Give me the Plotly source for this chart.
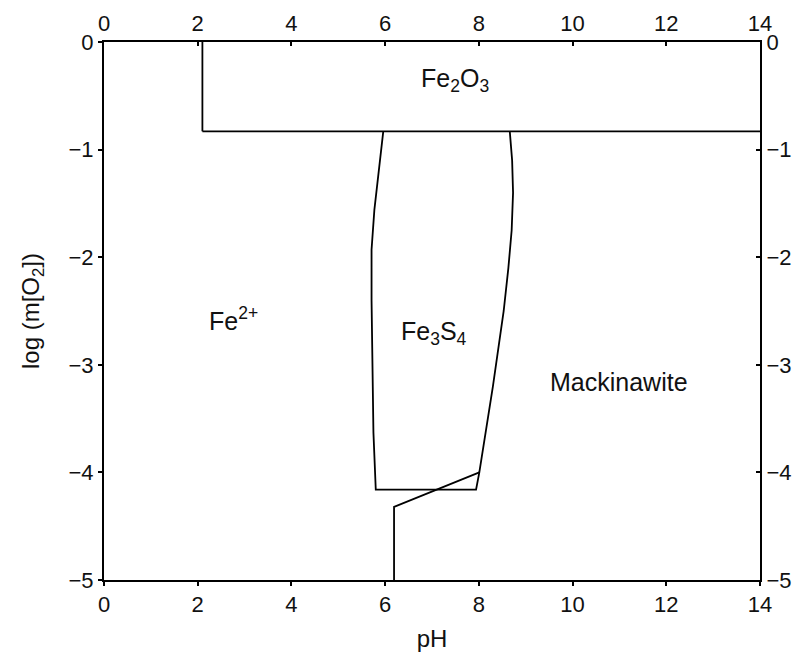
import plotly.graph_objects as go

# Phase boundaries, pH vs log m[O2]
fe2o3_vert_ph = [2.1, 2.1]
fe2o3_vert_logo2 = [0.0, -0.83]
fe2o3_base_ph = [2.1, 14.0]
fe2o3_base_logo2 = [-0.83, -0.83]

fe3s4_ph = [5.96, 5.85, 5.77, 5.71, 5.71, 5.75, 5.80, 7.94, 8.01, 8.30, 8.53, 8.63, 8.70, 8.73, 8.71, 8.66]
fe3s4_logo2 = [-0.83, -1.25, -1.56, -1.93, -2.40, -3.63, -4.16, -4.16, -4.00, -3.20, -2.50, -2.10, -1.75, -1.40, -1.10, -0.83]

mack_ph = [8.01, 6.19, 6.19]
mack_logo2 = [-4.00, -4.32, -5.0]

# Field labels
label_text = ["Fe<sub>2</sub>O<sub>3</sub>", "Fe<sup>2+</sup>", "Fe<sub>3</sub>S<sub>4</sub>", "Mackinawite"]
label_ph = [7.5, 2.77, 7.04, 10.99]
label_logo2 = [-0.35, -2.57, -2.70, -3.16]

x_ticks = [0, 2, 4, 6, 8, 10, 12, 14]
y_ticks = [0, -1, -2, -3, -4, -5]

line_style = dict(color="black", width=1.8)
fig = go.Figure()
for xs, ys in [(fe2o3_vert_ph, fe2o3_vert_logo2), (fe2o3_base_ph, fe2o3_base_logo2),
               (fe3s4_ph, fe3s4_logo2), (mack_ph, mack_logo2)]:
    fig.add_trace(go.Scatter(x=xs, y=ys, mode="lines", line=line_style,
                             showlegend=False, hoverinfo="skip"))
# carrier trace for the mirrored top/right axes
fig.add_trace(go.Scatter(x=[0, 14], y=[0, -5], xaxis="x2", yaxis="y2", mode="markers",
                         marker=dict(opacity=0), showlegend=False, hoverinfo="skip"))

family = "Liberation Sans, Arial, sans-serif"
for t, xv, yv in zip(label_text, label_ph, label_logo2):
    fig.add_annotation(x=xv, y=yv, text=t, showarrow=False,
                       font=dict(family=family, size=25, color="#111"))

font = dict(family=family, size=22, color="#111")
axis_common = dict(showgrid=False, zeroline=False, showline=True, linecolor="black",
                   linewidth=2, ticklen=4, tickwidth=1.5, tickcolor="black",
                   tickfont=font, automargin=False)
fig.update_layout(
    width=794, height=658,
    margin=dict(l=104, r=34, t=42, b=78, autoexpand=False),
    paper_bgcolor="white", plot_bgcolor="white",
    font=font,
    xaxis=dict(range=[0, 14], tickvals=x_ticks, ticks="outside",
               title=dict(text="pH", font=dict(family=family, size=24, color="#111"), standoff=14),
               **axis_common),
    xaxis2=dict(range=[0, 14], tickvals=x_ticks, ticks="inside", side="top",
                overlaying="x", anchor="y", **axis_common),
    yaxis=dict(range=[-5, 0], tickvals=y_ticks, ticks="outside",
               title=dict(text="log (m[O<sub>2</sub>])", font=dict(family=family, size=24, color="#111"), standoff=22),
               **axis_common),
    yaxis2=dict(range=[-5, 0], tickvals=y_ticks, ticks="inside", side="right",
                overlaying="y", anchor="x", **axis_common),
)

fig.write_html("out.html")
